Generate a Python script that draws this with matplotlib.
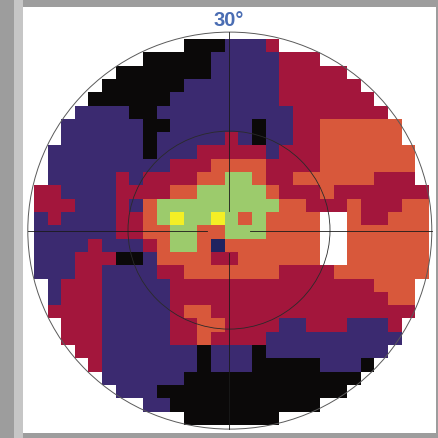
import matplotlib
matplotlib.use("Agg")
import matplotlib.pyplot as plt
import matplotlib.patches as patches
from matplotlib.colors import ListedColormap
import numpy as np

# --- DATA: 29 x 29 grey-scale map, one letter per 2 deg cell (row 0 = top) ---
# . blank  K black  P purple  R crimson  O orange  G green  Y yellow  N navy
grid_rows = [
    "...........KKKPPPR...........",
    "........KKKKKPPPPPRRR........",
    "......KKKKKKKPPPPPRRRRR......",
    ".....KKKKKKPPPPPPPRRRRRR.....",
    "....KKKKKKPPPPPPPPRRRRRRR....",
    "...PPPPKKPPPPPPPPPPRRRRRRR...",
    "..PPPPPPKKPPPPPPKPPRROOOOOO..",
    "..PPPPPPKPPPPPRPKPPRROOOOOO..",
    ".PPPPPPPKPPPRRRRRPRRROOOOOOO.",
    ".PPPPPPPPPRRROOOORRRROOOOOOO.",
    ".PPPPPRPRRRROOGGORROOOOOORRR.",
    "RRPPPPRRRROOGGGGGORRRORRRRRRR",
    "RRRPPPRPOGGGGGGGGGOORRRORRROO",
    "PRPPPPRROGYGGYGOGOOOO..ORROOO",
    "PPPPPPRROOGGOOGGGOOOO..OOOOOO",
    "PPPPRPPPROGGONOOOOOOO..OOOOOO",
    "PPPRRRKKPOOOORROOOOOO..OOOOOO",
    "PPPRRPPPPRROOOOOOORRRROOOOOOO",
    ".PRRRPPPPPRRRRRRRRRRRRRRROOO.",
    ".PRRRPPPPPRRRRRRRRRRRRRRRROO.",
    ".RRRRPPPPPROORRRRRRRRRRRRRRR.",
    "..RRRPPPPPRROORRRRPPRRRPPPR..",
    "..RRRPPPPPRRORRRRPPPPPPPPPP..",
    "...RRPPPPPPPKPPPKPPPPPPPPP...",
    "....RPPPPPPPKPPPKKKKKPPPK....",
    ".....PPPPPPKKKKKKKKKKKKK.....",
    "......PPPKKKKKKKKKKKKKK......",
    "........PPKKKKKKKKKKK........",
    "...........KKKKKKK...........",
]
level_codes = ".KPROGYN"
level_colors = ["#ffffff", "#0b0909", "#3b2a70", "#a3163c",
                "#d8583b", "#9ccb6c", "#f4ef25", "#1f2360"]
field_label = "30°"

W, H = 439, 439
fig = plt.figure(figsize=(W / 100, H / 100), dpi=100)
ax = fig.add_axes([0, 0, 1, 1])
ax.set_xlim(0, W)
ax.set_ylim(H, 0)
ax.set_axis_off()

# grey frame with a lighter bevel on the left
ax.add_patch(patches.Rectangle((0, 0), W, H, facecolor="#9d9d9d", edgecolor="none", zorder=0))
ax.add_patch(patches.Rectangle((14, 0), 9, H, facecolor="#c6c6c6", edgecolor="none", zorder=0))
ax.add_patch(patches.Rectangle((23, 8), 413, 426, facecolor="white", edgecolor="none", zorder=1))

# the grid
cells = np.array([[level_codes.index(ch) for ch in row] for row in grid_rows])
cmap = ListedColormap(level_colors)
ax.imshow(cells, cmap=cmap, vmin=-0.5, vmax=len(level_colors) - 0.5,
          extent=[34.1, 428.2, 426.4, 40.7], interpolation="nearest", zorder=2)
ax.set_xlim(0, W)
ax.set_ylim(H, 0)

# rings and cross
cx, cy = 229.8, 231.6
ax.add_patch(patches.Ellipse((cx, cy), 404, 397, fill=False, edgecolor="#5a5a5a", lw=0.7, zorder=3))
ax.add_patch(patches.Ellipse((cx - 0.8, cy - 0.5), 202, 198, fill=False, edgecolor="#2a2a2a", lw=0.6, zorder=3))
line_style = dict(color="#1a1a1a", lw=0.6, zorder=3)
ax.plot([28, 207], [232.3, 232.3], **line_style)
ax.plot([250, 432], [232.3, 232.3], **line_style)
ax.plot([228.7, 228.7], [33, 212], **line_style)
ax.plot([228.7, 228.7], [254, 430], **line_style)

ax.text(229, 21, field_label, ha="center", va="center", fontsize=14.5, fontweight="bold",
        color="#4a6db3", family=["Liberation Sans", "DejaVu Sans"], zorder=4)

fig.savefig("out.png", dpi=100)
